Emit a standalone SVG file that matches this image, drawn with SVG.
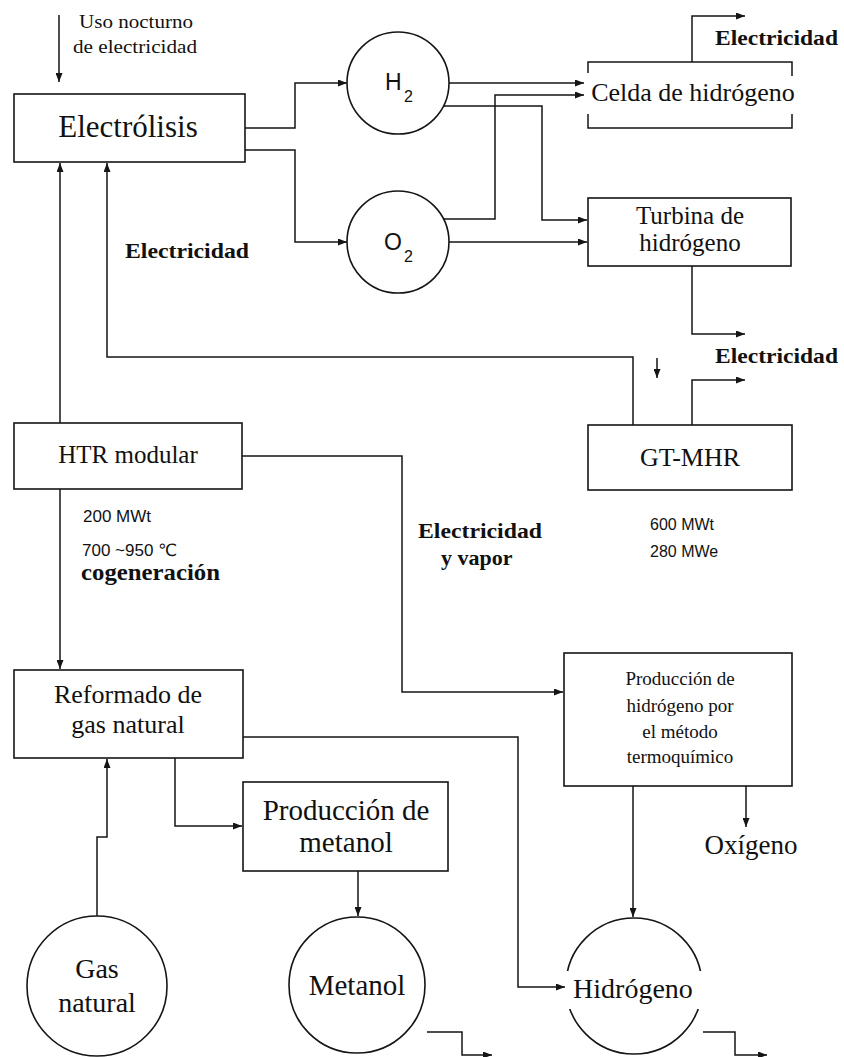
<svg xmlns="http://www.w3.org/2000/svg" width="844" height="1057" viewBox="0 0 844 1057">
<defs>
<marker id="ah" viewBox="0 0 9 7" markerWidth="9" markerHeight="7" refX="9" refY="3.5" orient="auto" markerUnits="userSpaceOnUse">
<path d="M0,0 L9,3.5 L0,7 z" fill="#151515"/>
</marker>
<style>
.n{fill:#fff;stroke:#151515;stroke-width:1.6}
.c{fill:none;stroke:#151515;stroke-width:1.5;marker-end:url(#ah)}
.cl{fill:none;stroke:#151515;stroke-width:1.5}
.s{font-family:"Liberation Serif","Times New Roman",serif;fill:#111}
.b{font-family:"Liberation Serif","Times New Roman",serif;font-weight:bold;fill:#111}
.g{font-family:"Liberation Sans","DejaVu Sans",sans-serif;fill:#111}
</style>
</defs>
<rect width="844" height="1057" fill="#fff"/>

<g id="label-uso">
<text class="s" x="79" y="28" font-size="19" textLength="114" lengthAdjust="spacingAndGlyphs">Uso nocturno</text>
<text class="s" x="73" y="53" font-size="19" textLength="124" lengthAdjust="spacingAndGlyphs">de electricidad</text>
</g>

<g id="electrolisis">
<rect class="n" x="14" y="94" width="231" height="68"/>
<text class="s" x="128" y="137" font-size="31" text-anchor="middle">Electrólisis</text>
</g>

<g id="h2">
<circle class="n" cx="398" cy="83" r="51"/>
<text class="g" x="385" y="90" font-size="23">H</text>
<text class="g" x="404" y="102" font-size="16">2</text>
</g>

<g id="o2">
<circle class="n" cx="398" cy="242" r="51"/>
<text class="g" x="384" y="250" font-size="23">O</text>
<text class="g" x="404" y="262" font-size="16">2</text>
</g>

<g id="celda">
<path class="cl" d="M588,73 V62 H792 V76 M588,114 V128 H792 V114"/>
<text class="s" x="693" y="101" font-size="26" text-anchor="middle">Celda de hidrógeno</text>
</g>

<g id="electricidad-1">
<text class="b" x="715" y="45" font-size="22" textLength="123" lengthAdjust="spacingAndGlyphs">Electricidad</text>
</g>

<g id="turbina">
<rect class="n" x="588" y="198" width="203" height="68"/>
<text class="s" x="690" y="224" font-size="25" text-anchor="middle">Turbina de</text>
<text class="s" x="690" y="251" font-size="25" text-anchor="middle">hidrógeno</text>
</g>

<g id="electricidad-2">
<text class="b" x="715" y="363" font-size="22" textLength="123" lengthAdjust="spacingAndGlyphs">Electricidad</text>
</g>

<g id="electricidad-3">
<text class="b" x="125" y="258" font-size="22" textLength="124" lengthAdjust="spacingAndGlyphs">Electricidad</text>
</g>

<g id="gtmhr">
<rect class="n" x="588" y="425" width="204" height="65"/>
<text class="s" x="690" y="466" font-size="26" text-anchor="middle">GT-MHR</text>
<text class="g" x="650" y="530" font-size="16">600 MWt</text>
<text class="g" x="650" y="557" font-size="16">280 MWe</text>
</g>

<g id="htr">
<rect class="n" x="14" y="423" width="228" height="66"/>
<text class="s" x="128" y="463" font-size="25" text-anchor="middle">HTR modular</text>
<text class="g" x="83" y="522" font-size="17">200 MWt</text>
<text class="g" x="82" y="556" font-size="17">700 ~950 ℃</text>
<text class="b" x="81" y="580" font-size="23" textLength="139" lengthAdjust="spacingAndGlyphs">cogeneración</text>
</g>

<g id="electricidad-vapor">
<text class="b" x="418" y="538" font-size="22" textLength="124" lengthAdjust="spacingAndGlyphs">Electricidad</text>
<text class="b" x="441" y="565" font-size="22">y vapor</text>
</g>

<g id="termoquimico">
<rect class="n" x="564" y="653" width="228" height="133"/>
<text class="s" x="680" y="685" font-size="19" text-anchor="middle">Producción de</text>
<text class="s" x="680" y="712" font-size="19" text-anchor="middle">hidrógeno por</text>
<text class="s" x="680" y="738" font-size="19" text-anchor="middle">el método</text>
<text class="s" x="680" y="763" font-size="19" text-anchor="middle">termoquímico</text>
</g>

<g id="oxigeno">
<text class="s" x="751" y="854" font-size="27" text-anchor="middle">Oxígeno</text>
</g>

<g id="reformado">
<rect class="n" x="14" y="670" width="229" height="88"/>
<text class="s" x="128" y="703" font-size="26" text-anchor="middle">Reformado de</text>
<text class="s" x="128" y="733" font-size="26" text-anchor="middle">gas natural</text>
</g>

<g id="prod-metanol">
<rect class="n" x="243" y="782" width="205" height="89"/>
<text class="s" x="346" y="820" font-size="29" text-anchor="middle">Producción de</text>
<text class="s" x="346" y="852" font-size="29" text-anchor="middle">metanol</text>
</g>

<g id="gas-natural">
<circle class="n" cx="97" cy="986" r="70"/>
<text class="s" x="97" y="978" font-size="28" text-anchor="middle">Gas</text>
<text class="s" x="97" y="1012" font-size="28" text-anchor="middle">natural</text>
</g>

<g id="metanol">
<circle class="n" cx="357" cy="985" r="68"/>
<text class="s" x="357" y="995" font-size="29" text-anchor="middle">Metanol</text>
</g>

<g id="hidrogeno">
<circle class="n" cx="634" cy="986" r="68"/>
<rect x="564" y="971" width="142" height="38" fill="#fff"/>
<text class="s" x="633" y="998" font-size="28" text-anchor="middle">Hidrógeno</text>
</g>

<g id="connectors">
<path class="c" d="M59,15 V82"/>
<path class="c" d="M245,128 H295 V83 H347"/>
<path class="c" d="M245,150 H295 V242 H347"/>
<path class="c" d="M449,83 H584"/>
<path class="c" d="M444,219 H495 V95 H584"/>
<path class="c" d="M444,106 H542 V220 H587"/>
<path class="c" d="M449,242 H587"/>
<path class="c" d="M692,62 V16 H745"/>
<path class="c" d="M692,266 V334 H745"/>
<path class="c" d="M692,425 V380 H745"/>
<path class="c" d="M633,425 V357 H107 V163"/>
<path class="c" d="M60,423 V163"/>
<path class="c" d="M60,489 V669"/>
<path class="c" d="M242,456 H402 V692 H563"/>
<path class="c" d="M657,358 V378"/>
<path class="c" d="M746,786 V827"/>
<path class="c" d="M633,786 V917"/>
<path class="c" d="M243,737 H518 V987 H565"/>
<path class="c" d="M175,758 V826 H242"/>
<path class="c" d="M358,871 V916"/>
<path class="c" d="M97,916 V837 H107 V759"/>
<path class="c" d="M427,1032 H462 V1055 H492"/>
<path class="c" d="M703,1032 H735 V1055 H767"/>
</g>
</svg>
